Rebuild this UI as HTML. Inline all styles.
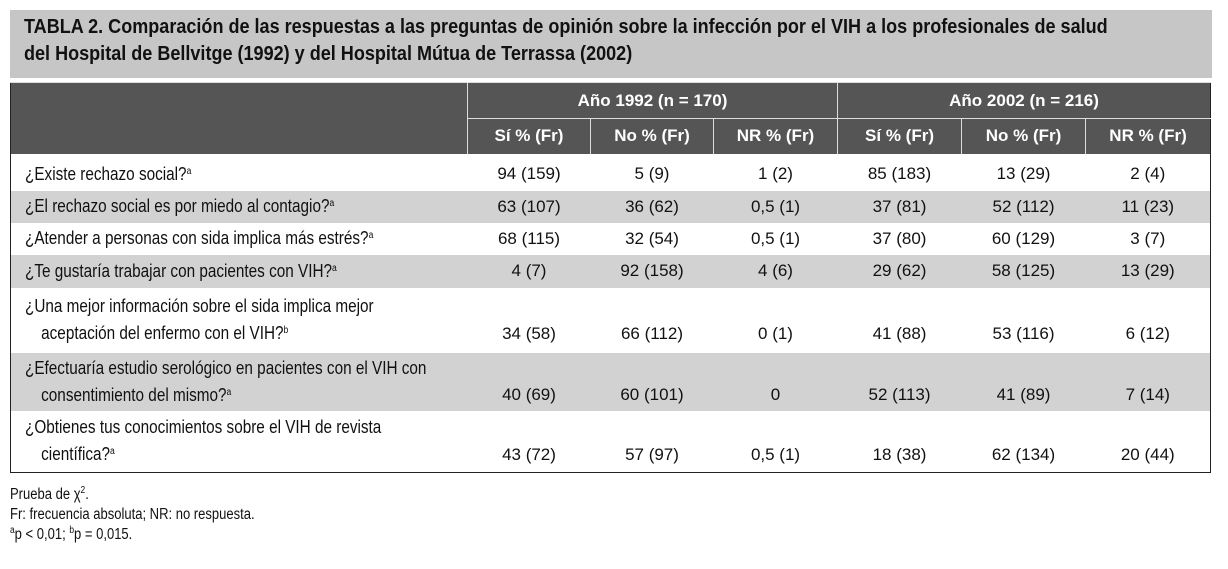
<!DOCTYPE html>
<html><head><meta charset="utf-8"><style>
body{margin:0;width:1228px;height:569px;background:#fff;position:relative;overflow:hidden;font-family:"Liberation Sans Narrow","Liberation Sans",sans-serif;color:#111}
#title{position:absolute;left:10px;top:10px;width:1202px;height:68px;background:#c6c6c6}
#title div{position:absolute;left:14px;font-weight:bold;font-size:20.5px;white-space:nowrap;transform:scaleX(0.88);transform-origin:left}
table{position:absolute;left:10px;top:82px;border-collapse:collapse;width:1200px;font-size:17px;table-layout:fixed}
table{border:1.5px solid #222}
th{background:#555;color:#fff;font-weight:bold;font-size:17px;border-left:1px solid #ddd;border-top:1px solid #ddd;padding:0}
td{padding:0;text-align:center}
td.q{text-align:left;padding-left:14px;line-height:27px;white-space:nowrap;font-size:18px}
.l{display:block;transform:scaleX(0.85);transform-origin:left}
.l.i{padding-left:19px}
tr.g td{background:#d2d2d2}
.foot{position:absolute;left:10px;font-size:15.5px;white-space:nowrap;transform:scaleX(0.84);transform-origin:left}
sup{font-size:10px;vertical-align:6px;line-height:0}
</style></head><body>
<div id="title">
<div style="top:5px">TABLA 2. Comparación de las respuestas a las preguntas de opinión sobre la infección por el VIH a los profesionales de salud</div>
<div style="top:32px">del Hospital de Bellvitge (1992) y del Hospital Mútua de Terrassa (2002)</div>
</div>
<table>
<colgroup><col style="width:457px"><col style="width:123px"><col style="width:123px"><col style="width:124px"><col style="width:124px"><col style="width:124px"><col style="width:125px"></colgroup>
<tr style="height:36px"><th rowspan="2" style="border-left:none"></th><th colspan="3">Año 1992 (n = 170)</th><th colspan="3">Año 2002 (n = 216)</th></tr>
<tr style="height:35px"><th>Sí % (Fr)</th><th>No % (Fr)</th><th>NR % (Fr)</th><th>Sí % (Fr)</th><th>No % (Fr)</th><th>NR % (Fr)</th></tr>
<tr style="height:37px"><td class="q" style="padding-top:4px"><span class="l">¿Existe rechazo social?<sup>a</sup></span></td><td style="padding-top:4px">94 (159)</td><td style="padding-top:4px">5 (9)</td><td style="padding-top:4px">1 (2)</td><td style="padding-top:4px">85 (183)</td><td style="padding-top:4px">13 (29)</td><td style="padding-top:4px">2 (4)</td></tr>
<tr class="g" style="height:32px"><td class="q"><span class="l">¿El rechazo social es por miedo al contagio?<sup>a</sup></span></td><td>63 (107)</td><td>36 (62)</td><td>0,5 (1)</td><td>37 (81)</td><td>52 (112)</td><td>11 (23)</td></tr>
<tr style="height:32px"><td class="q"><span class="l">¿Atender a personas con sida implica más estrés?<sup>a</sup></span></td><td>68 (115)</td><td>32 (54)</td><td>0,5 (1)</td><td>37 (80)</td><td>60 (129)</td><td>3 (7)</td></tr>
<tr class="g" style="height:33px"><td class="q"><span class="l">¿Te gustaría trabajar con pacientes con VIH?<sup>a</sup></span></td><td>4 (7)</td><td>92 (158)</td><td>4 (6)</td><td>29 (62)</td><td>58 (125)</td><td>13 (29)</td></tr>
<tr style="height:65px"><td class="q"><span class="l">¿Una mejor información sobre el sida implica mejor</span><span class="l i">aceptación del enfermo con el VIH?<sup>b</sup></span></td><td style="padding-top:28px">34 (58)</td><td style="padding-top:28px">66 (112)</td><td style="padding-top:28px">0 (1)</td><td style="padding-top:28px">41 (88)</td><td style="padding-top:28px">53 (116)</td><td style="padding-top:28px">6 (12)</td></tr>
<tr class="g" style="height:58px"><td class="q"><span class="l">¿Efectuaría estudio serológico en pacientes con el VIH con</span><span class="l i">consentimiento del mismo?<sup>a</sup></span></td><td style="padding-top:26px">40 (69)</td><td style="padding-top:26px">60 (101)</td><td style="padding-top:26px">0</td><td style="padding-top:26px">52 (113)</td><td style="padding-top:26px">41 (89)</td><td style="padding-top:26px">7 (14)</td></tr>
<tr style="height:62px"><td class="q"><span class="l">¿Obtienes tus conocimientos sobre el VIH de revista</span><span class="l i">científica?<sup>a</sup></span></td><td style="padding-top:27px">43 (72)</td><td style="padding-top:27px">57 (97)</td><td style="padding-top:27px">0,5 (1)</td><td style="padding-top:27px">18 (38)</td><td style="padding-top:27px">62 (134)</td><td style="padding-top:27px">20 (44)</td></tr>
</table>
<div class="foot" style="top:486px">Prueba de χ<sup>2</sup>.</div>
<div class="foot" style="top:506px">Fr: frecuencia absoluta; NR: no respuesta.</div>
<div class="foot" style="top:526px"><sup>a</sup>p &lt; 0,01; <sup>b</sup>p = 0,015.</div>
</body></html>
